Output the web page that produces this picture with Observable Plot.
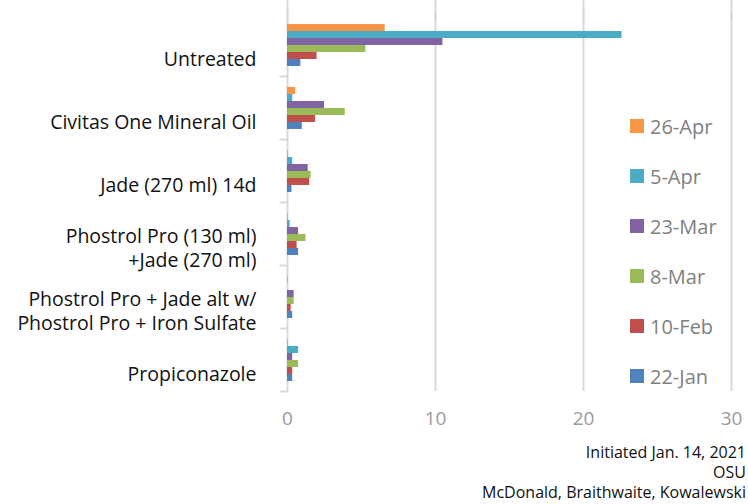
<!DOCTYPE html>
<html>
<head>
<meta charset="utf-8">
<script src="https://cdn.jsdelivr.net/npm/d3@7"></script>
<script src="https://cdn.jsdelivr.net/npm/@observablehq/plot@0.6"></script>
<style>
  body { margin: 0; background: #fff; font-family: "Open Sans", sans-serif; }
  #wrap { position: relative; width: 748px; height: 504px; overflow: hidden; }
  #legend { position: absolute; left: 630px; top: 101px; }
  .row { height: 50px; display: flex; align-items: center; font-size: 20px; color: #7f7f7f; }
  .sw { width: 14px; height: 14px; margin-right: 6px; }
  #caption { position: absolute; right: 2px; top: 442px; text-align: right; font-size: 16px; line-height: 20px; color: #111; white-space: nowrap; }
</style>
</head>
<body>
<div id="wrap">
  <div id="chart"></div>
  <div id="legend"></div>
  <div id="caption"></div>
</div>
<script>
const categories = [
  "Untreated",
  "Civitas One Mineral Oil",
  "Jade (270 ml) 14d",
  "Phostrol Pro (130 ml)\n+Jade (270 ml)",
  "Phostrol Pro + Jade alt w/\nPhostrol Pro + Iron Sulfate",
  "Propiconazole"
];
const seriesNames = ["26-Apr", "5-Apr", "23-Mar", "8-Mar", "10-Feb", "22-Jan"];
const seriesColors = ["#F79646", "#4BACC6", "#8064A2", "#9BBB59", "#C0504D", "#4F81BD"];
const apr26 = [6.6, 0.55, 0.05, 0.05, 0.05, 0.05];
const apr5  = [22.6, 0.35, 0.35, 0.18, 0, 0.75];
const mar23 = [10.5, 2.5, 1.4, 0.75, 0.45, 0.35];
const mar8  = [5.3, 3.9, 1.6, 1.25, 0.45, 0.75];
const feb10 = [2.0, 1.9, 1.5, 0.65, 0.25, 0.35];
const jan22 = [0.9, 1.0, 0.3, 0.75, 0.35, 0.35];
const xTicks = [0, 10, 20, 30];
const captionLines = ["Initiated Jan. 14, 2021", "OSU", "McDonald, Braithwaite, Kowalewski"];

const seriesValues = [apr26, apr5, mar23, mar8, feb10, jan22];
const data = [];
seriesNames.forEach((s, i) => categories.forEach((c, j) => data.push({cat: c, series: s, value: seriesValues[i][j]})));

const chart = Plot.plot({
  width: 748,
  height: 440,
  marginLeft: 287,
  marginRight: 17,
  marginTop: 13,
  marginBottom: 49,
  style: {fontFamily: "Open Sans, sans-serif", background: "#fff"},
  x: {domain: [0, 30]},
  y: {domain: seriesNames, paddingInner: 0, paddingOuter: 1.1, axis: null},
  fy: {domain: categories, padding: 0, label: null},
  color: {domain: seriesNames, range: seriesColors},
  marks: [
    Plot.gridX({ticks: xTicks, stroke: "#d9d9d9", strokeOpacity: 1, strokeWidth: 2}),
    Plot.ruleX(xTicks, {x: d => d, fy: () => categories[0], stroke: "#d9d9d9", strokeWidth: 2, insetTop: -13, insetBottom: 55}),
    Plot.frame({anchor: "bottom", insetLeft: -7, insetRight: 444, stroke: "#d9d9d9", strokeWidth: 2}),
    Plot.barX(data, {x: "value", y: "series", fy: "cat", fill: "series"}),
    Plot.axisX({ticks: xTicks, tickSize: 0, tickPadding: 20, fontSize: 19, fill: "#9a9a9a", label: null}),
    Plot.axisFy({anchor: "left", tickSize: 0, tickPadding: 31, fontSize: 19.5, fill: "#111", dy: 13, lineHeight: 1.25, label: null})
  ]
});
document.getElementById("chart").appendChild(chart);

const legend = document.getElementById("legend");
seriesNames.forEach((s, i) => {
  const row = document.createElement("div");
  row.className = "row";
  row.innerHTML = `<div class="sw" style="background:${seriesColors[i]}"></div><span>${s}</span>`;
  legend.appendChild(row);
});
document.getElementById("caption").innerHTML = captionLines.join("<br>");
</script>
</body>
</html>
